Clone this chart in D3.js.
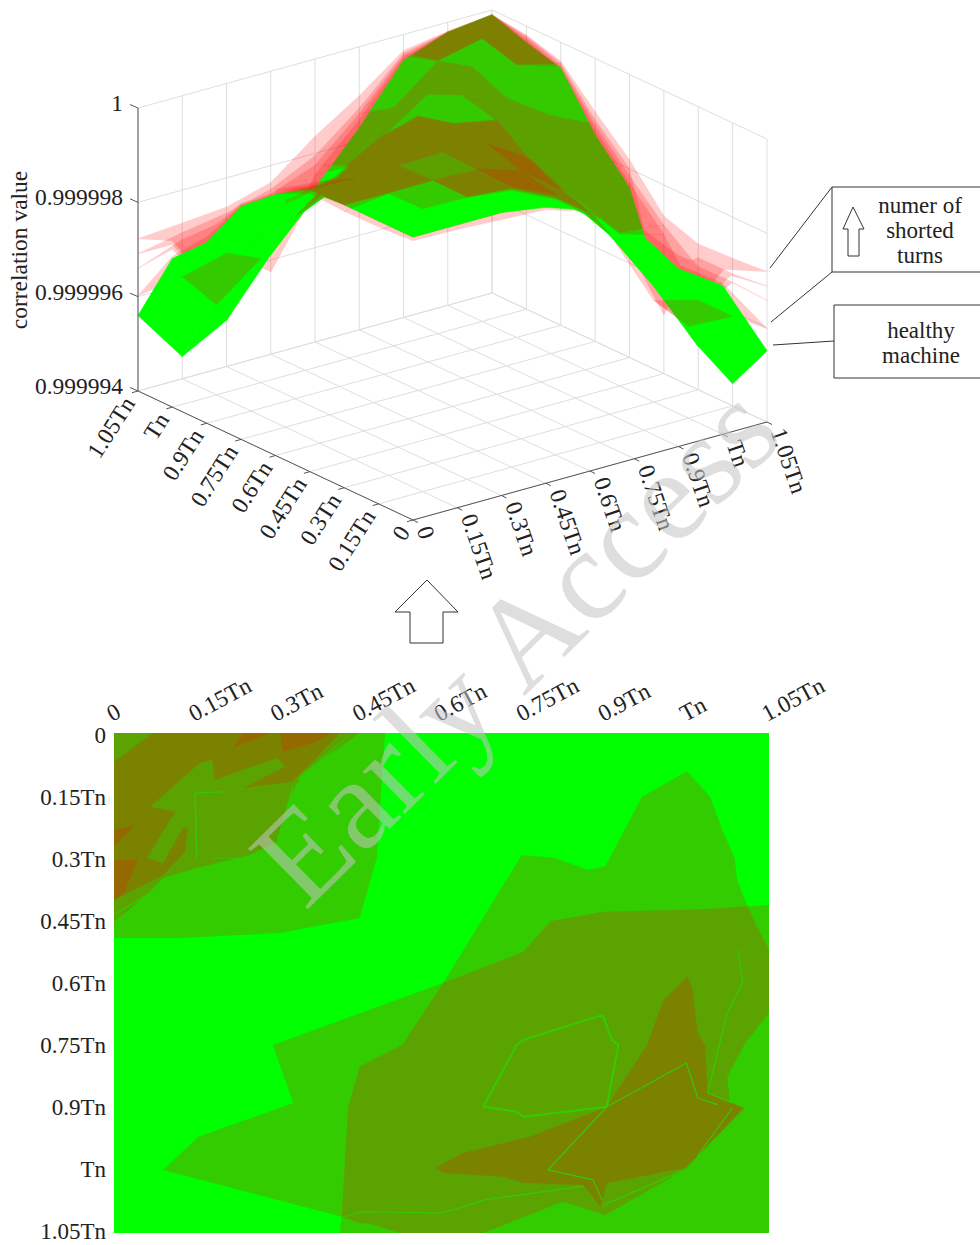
<!DOCTYPE html>
<html>
<head>
<meta charset="utf-8">
<script src="https://cdn.jsdelivr.net/npm/d3@7"></script>
<style>
  html, body { margin: 0; background: #fff; }
  text { font-family: "Liberation Serif", serif; fill: #222; }
</style>
</head>
<body>
<div id="chart"></div>
<script>
const tickLabels = ['0', '0.15Tn', '0.3Tn', '0.45Tn', '0.6Tn', '0.75Tn', '0.9Tn', 'Tn', '1.05Tn']
const zTickValues = [0, 2, 4, 6]   // millionths above 0.999994
const zTickLabels = ['0.999994', '0.999996', '0.999998', '1']
const boxLabelsTop = ['numer of', 'shorted', 'turns']
const boxLabelsBottom = ['healthy', 'machine']

// correlation surfaces: rows are x index, columns y index,
// values are millionths above 0.999994
const healthy = [
  [6.00, 6.00, 6.00, 5.94, 5.53, 4.94, 3.83, 3.15, 1.60],
  [6.00, 6.00, 5.98, 5.85, 5.43, 4.72, 3.51, 2.13, 0.47],
  [6.00, 5.98, 6.00, 5.96, 5.57, 4.89, 3.83, 2.55, 0.98],
  [5.85, 5.85, 5.96, 6.00, 5.85, 5.21, 4.26, 3.40, 2.11],
  [5.53, 5.40, 5.57, 5.85, 6.00, 5.79, 5.00, 4.04, 3.26],
  [4.89, 4.70, 4.85, 5.20, 5.79, 6.00, 5.64, 5.00, 4.28],
  [3.77, 3.45, 3.80, 4.20, 5.00, 5.64, 6.00, 5.74, 5.45],
  [3.15, 2.10, 2.45, 3.20, 4.00, 5.00, 5.74, 6.00, 5.79],
  [1.51, 0.47, 0.92, 1.60, 3.60, 4.38, 5.45, 5.65, 5.90]
]
const fault1 = [
  [6.00, 6.00, 6.00, 6.00, 5.64, 5.08, 4.20, 3.53, 3.23],
  [6.00, 6.00, 6.00, 5.95, 5.55, 4.85, 3.65, 2.28, 3.30],
  [6.00, 6.00, 6.00, 5.98, 5.70, 5.02, 3.98, 2.70, 3.38],
  [5.92, 5.95, 5.98, 6.00, 5.92, 5.35, 4.40, 3.55, 3.64],
  [5.62, 5.52, 5.68, 5.92, 6.00, 5.85, 5.12, 4.18, 4.36],
  [5.05, 4.84, 4.98, 5.32, 5.85, 6.00, 5.72, 5.14, 4.96],
  [4.15, 3.60, 3.95, 4.35, 5.12, 5.72, 6.00, 5.82, 5.66],
  [3.50, 2.25, 2.60, 3.35, 4.15, 5.12, 5.82, 6.00, 5.81],
  [3.19, 3.13, 3.09, 3.34, 4.19, 4.87, 5.60, 5.81, 5.90]
]
const fault2 = [
  [6.00, 6.00, 6.00, 5.98, 5.60, 5.00, 4.10, 3.45, 2.91],
  [6.00, 6.00, 5.99, 5.92, 5.50, 4.80, 3.60, 2.23, 3.10],
  [6.00, 5.99, 6.00, 5.97, 5.65, 4.97, 3.93, 2.65, 3.25],
  [5.90, 5.92, 5.97, 6.00, 5.90, 5.30, 4.35, 3.50, 3.50],
  [5.60, 5.47, 5.65, 5.90, 6.00, 5.82, 5.08, 4.13, 3.95],
  [5.00, 4.78, 4.93, 5.28, 5.82, 6.00, 5.70, 5.09, 4.70],
  [4.05, 3.55, 3.90, 4.30, 5.08, 5.70, 6.00, 5.80, 5.60],
  [3.42, 2.20, 2.55, 3.30, 4.10, 5.08, 5.80, 6.00, 5.80],
  [2.88, 2.80, 2.80, 1.25, 4.00, 4.70, 5.55, 5.79, 5.90]
]
const fault3 = [
  [6.00, 6.00, 6.00, 5.96, 5.58, 4.98, 4.05, 3.35, 2.60],
  [6.00, 6.00, 5.99, 5.90, 5.47, 4.77, 3.56, 2.18, 2.95],
  [6.00, 5.99, 6.00, 5.97, 5.62, 4.93, 3.88, 2.60, 3.10],
  [5.88, 5.90, 5.97, 6.00, 5.88, 5.26, 4.31, 3.45, 3.40],
  [5.58, 5.45, 5.61, 5.88, 6.00, 5.80, 5.05, 4.09, 3.75],
  [4.96, 4.75, 4.90, 5.24, 5.80, 6.00, 5.68, 5.05, 4.58],
  [4.00, 3.50, 3.85, 4.25, 5.05, 5.68, 6.00, 5.78, 5.55],
  [3.32, 2.15, 2.50, 3.25, 4.05, 5.05, 5.78, 6.00, 5.79],
  [2.58, 2.62, 2.60, 3.15, 3.85, 4.60, 5.50, 5.75, 5.90]
]
const fault4 = [
  [5.92, 5.87, 5.86, 5.90, 5.55, 4.95, 3.95, 3.20, 2.02],
  [5.90, 6.00, 5.98, 5.87, 5.44, 4.74, 3.52, 1.91, 2.16],
  [5.85, 5.98, 6.00, 5.96, 5.59, 4.90, 3.85, 2.63, 2.40],
  [5.80, 5.87, 5.96, 6.00, 5.86, 5.23, 4.28, 3.42, 1.75],
  [5.50, 5.42, 5.58, 5.86, 6.00, 5.78, 5.02, 4.06, 3.55],
  [4.85, 4.72, 4.87, 5.22, 5.78, 6.00, 5.66, 5.02, 4.45],
  [3.85, 3.47, 3.82, 4.22, 5.02, 5.66, 6.00, 5.76, 5.50],
  [3.20, 1.95, 2.15, 3.22, 4.02, 5.02, 5.76, 6.00, 5.79],
  [1.98, 1.90, 1.90, 2.95, 3.70, 4.50, 5.45, 5.70, 5.90]
]
// how many fault surfaces sit in front of the healthy one, per mesh cell
const frontCount = [
  [0, 0, 3, 4, 0, 0, 0, 0],
  [0, 1, 3, 3, 3, 0, 0, 1],
  [0, 3, 2, 3, 3, 2, 0, 0],
  [0, 4, 3, 3, 3, 3, 3, 0],
  [0, 3, 4, 3, 1, 1, 2, 2],
  [0, 0, 2, 2, 2, 2, 2, 1],
  [0, 0, 0, 2, 2, 1, 1, 3],
  [0, 1, 0, 2, 2, 1, 3, 3]
]

// projected map regions, [x index, y index]
const mapLevel1 = [
  [[0, 0], [3.31, 0], [3.21, 2], [3.0, 2.96], [2.03, 3.2], [0.81, 3.28], [0, 3.28]],
  [[0.60, 6.99], [1.03, 6.46], [2.19, 5.92], [1.94, 4.99], [4.02, 4.0], [4.98, 1.95], [5.39, 2.0], [5.79, 2.19],
   [6.0, 2.13], [6.45, 1.02], [7.0, 0.61], [7.28, 1.02], [7.43, 1.55], [7.58, 2.0], [7.61, 2.35], [7.74, 2.77],
   [8, 2.75], [8, 8], [2.76, 8], [2.78, 7.74]]
]
const mapLevel2 = [
  [[0, 0], [3.0, 0], [2.31, 0.64], [2.15, 1.02], [1.99, 1.74], [1.66, 1.95], [1.01, 2.16], [0.6, 2.32], [0.4, 2.59], [0, 3.02]],
  [[3.49, 8], [3.15, 7.86], [3.0, 7.84], [2.78, 7.74], [2.86, 5.98], [3.0, 5.34], [3.52, 4.99], [4.02, 4.0], [5.0, 3.5],
   [5.33, 3.01], [5.97, 2.86], [7.19, 2.82], [7.74, 2.77], [7.83, 3.04], [8, 3.47], [8, 4.48], [7.71, 4.96], [7.49, 5.5],
   [7.52, 5.9], [7.71, 6.0], [7.12, 6.78], [6.97, 6.99], [6.0, 7.71], [5.48, 7.5], [4.51, 8]]
]
const mapLevel3 = [
  [[0, 0.46], [0.48, 0], [2.76, 0], [2.39, 0.51], [2.17, 0.78], [1.58, 0.88], [2.09, 0.54], [1.99, 0.4], [1.23, 0.75],
   [1.2, 0.43], [1.05, 0.48], [0.44, 1.18], [0.75, 1.26], [0.4, 2], [0.6, 2.08], [0.84, 1.52], [0.9, 1.5], [0.87, 1.9],
   [0.6, 2.27], [0, 2.67]],
  [[3.92, 6.96], [4.26, 6.72], [5.08, 6.46], [6.02, 5.98], [6.51, 4.99], [6.71, 4.27], [7.0, 3.9], [7.06, 4.06], [7.13, 4.8],
   [7.22, 4.99], [7.25, 5.76], [7.68, 6.0], [7.12, 6.78], [6.97, 6.96], [6.02, 7.2], [5.94, 7.58], [5.73, 7.23], [5.0, 7.2],
   [4.75, 7.1], [4.02, 7.04]]
]
const mapLevel4 = [
  [[1.45, 0.24], [1.58, 0], [1.91, 0]],
  [[2.03, 0], [2.66, 0], [2.43, 0.16], [2.06, 0.3]],
  [[0, 1.55], [0.26, 1.47], [0, 1.82]],
  [[0, 2.03], [0.29, 2.03], [0.13, 2.54], [0, 2.67]]
]
const mapSeams = [
  [[4.51, 5.98], [4.92, 4.99], [5.0, 4.91], [5.97, 4.51], [6.08, 4.91], [6.16, 4.99], [6.02, 5.98], [5.0, 6.14], [4.92, 6.06], [4.51, 5.98]],
  [[6.02, 5.98], [6.99, 5.28], [7.13, 5.84], [7.38, 5.95]],
  [[6.02, 5.98], [5.3, 6.99], [5.85, 7.15], [5.96, 7.47]],
  [[7.62, 3.47], [7.68, 3.98], [7.49, 4.48], [7.25, 5.76], [7.55, 5.92]],
  [[2.8, 7.74], [3.04, 7.66], [4.01, 7.68], [4.53, 7.47], [5.73, 7.25]],
  [[6.97, 6.99], [8, 6.99]],
  [[7.01, 6.99], [7.01, 8]],
  [[6.97, 6.99], [5.98, 7.55]],
  [[7.12, 6.78], [7.55, 6.0]],
  [[0.99, 0.96], [1.01, 2]],
  [[0.99, 0.96], [1.36, 0.94]],
  [[1.21, 2], [2.15, 2]],
  [[2.19, 0.83], [2.15, 1.02], [1.99, 1.74]],
  [[1.01, 2.16], [0.4, 2.59], [0, 2.91]],
  [[2.24, 0.75], [2.88, 0.03]]
]

const width = 980, height = 1245
const faults = [fault1, fault2, fault3, fault4]
const idx = d3.range(9)

const svg = d3.select('#chart').append('svg')
  .attr('width', width)
  .attr('height', height)
  .style('display', 'block')

// 3D box: oblique projection built from one scale per screen direction
const origin = {x: 413, y: 520}
const aX = d3.scaleLinear().domain([0, 8]).range([0, 354])
const aY = d3.scaleLinear().domain([0, 8]).range([0, -98])
const bX = d3.scaleLinear().domain([0, 8]).range([0, -275])
const bY = d3.scaleLinear().domain([0, 8]).range([0, -129])
const zY = d3.scaleLinear().domain([0, 6]).range([0, -283])

const project = (a, b, z) => [origin.x + aX(a) + bX(b), origin.y + aY(a) + bY(b) + zY(z)]
const line = d3.line()
const closed = d3.line().curve(d3.curveLinearClosed)

const box = svg.append('g')
const gridColor = '#dedede'

function gridLine(p, q) {
  box.append('path').attr('d', line([p, q])).attr('fill', 'none')
    .attr('stroke', gridColor).attr('stroke-width', 1)
}

// floor and the two back walls
idx.forEach(i => {
  gridLine(project(i, 0, 0), project(i, 8, 0))
  gridLine(project(0, i, 0), project(8, i, 0))
  gridLine(project(i, 8, 0), project(i, 8, 6))
  gridLine(project(8, i, 0), project(8, i, 6))
})
zTickValues.forEach(z => {
  gridLine(project(0, 8, z), project(8, 8, z))
  gridLine(project(8, 8, z), project(8, 0, z))
})

// mesh cells of one surface, far to near
function cells(surface, k) {
  const out = []
  d3.range(8).forEach(i => d3.range(8).forEach(j => {
    const zs = [surface[i][j], surface[i + 1][j], surface[i + 1][j + 1], surface[i][j + 1]]
    out.push({
      i, j, k,
      depth: 272 * (i + 0.5) / 8 + 357 * (j + 0.5) / 8 - 265 * d3.mean(zs) / 6,
      points: [project(i, j, zs[0]), project(i + 1, j, zs[1]), project(i + 1, j + 1, zs[2]), project(i, j + 1, zs[3])]
    })
  }))
  return out.sort((p, q) => q.depth - p.depth)
}

const isFront = c => c.k >= 4 - frontCount[c.i][c.j]
const mesh = svg.append('g')

// one translucent group per surface, so a fold of a surface doesn't darken itself
function drawFaults(test) {
  faults.forEach((s, k) => {
    mesh.append('g')
      .attr('opacity', 0.2)
      .selectAll('path').data(cells(s, k).filter(test)).enter()
      .append('path')
      .attr('d', d => closed(d.points))
      .attr('fill', '#ff0000')
      .attr('stroke', '#ff0000')
      .attr('stroke-width', 0.5)
  })
}

drawFaults(c => !isFront(c))
mesh.append('g').selectAll('path').data(cells(healthy, -1)).enter()
  .append('path')
  .attr('d', d => closed(d.points))
  .attr('fill', '#00ff00')
  .attr('stroke', '#00ff00')
  .attr('stroke-width', 0.6)
drawFaults(isFront)

// axes of the box
const axis = svg.append('g')
const axisColor = '#555'
function axisLine(p, q) {
  axis.append('path').attr('d', line([p, q])).attr('fill', 'none')
    .attr('stroke', axisColor).attr('stroke-width', 1)
}
axisLine(project(0, 8, 0), project(0, 0, 0))
axisLine(project(0, 0, 0), project(8, 0, 0))
axisLine(project(0, 8, 0), project(0, 8, 6))

const scalePos = d3.scalePoint().domain(tickLabels).range([0, 8])

tickLabels.forEach(label => {
  const t = scalePos(label)
  // y axis, left side
  const pl = project(0, t, 0)
  axisLine(pl, [pl[0] - 6, pl[1] + 1.7])
  axis.append('text')
    .attr('transform', `translate(${pl[0] - 9},${pl[1] + 8}) rotate(-57.5)`)
    .attr('text-anchor', 'end')
    .attr('dominant-baseline', 'central')
    .attr('font-size', 23.5)
    .text(label)
  // x axis, right side
  const pr = project(t, 0, 0)
  axisLine(pr, [pr[0] + 5, pr[1] + 2.5])
  axis.append('text')
    .attr('transform', `translate(${pr[0] + 11},${pr[1] + 7}) rotate(71)`)
    .attr('text-anchor', 'start')
    .attr('dominant-baseline', 'central')
    .attr('font-size', 23.5)
    .text(label)
})
zTickValues.forEach((z, n) => {
  const p = project(0, 8, z)
  axisLine(p, [p[0] - 8, p[1] - 3.5])
  axis.append('text')
    .attr('x', p[0] - 15)
    .attr('y', p[1] - 5)
    .attr('text-anchor', 'end')
    .attr('dominant-baseline', 'central')
    .attr('font-size', 23.5)
    .text(zTickLabels[n])
})
svg.append('text')
  .attr('transform', 'translate(19,250) rotate(-90)')
  .attr('text-anchor', 'middle')
  .attr('dominant-baseline', 'central')
  .attr('font-size', 23.5)
  .text('correlation value')

// legend boxes on the right
const legend = svg.append('g').attr('fill', 'none').attr('stroke', '#333').attr('stroke-width', 1)
legend.append('path').attr('d', line([[980, 187], [832, 187], [832, 272], [980, 272]]))
legend.append('path').attr('d', line([[980, 305], [834, 305], [834, 378], [980, 378]]))
legend.append('path').attr('d', line([[832, 187], [770, 268]]))
legend.append('path').attr('d', line([[832, 272], [771, 322]]))
legend.append('path').attr('d', line([[834, 341], [773, 345]]))
legend.append('path').attr('d', closed([[853, 207], [864, 229], [859, 229], [859, 256], [848, 256], [848, 229], [843, 229]]))
// arrow between the two views
legend.append('path').attr('d', closed([[427, 580], [458, 612], [443, 612], [443, 643], [410, 643], [410, 612], [395, 612]]))

boxLabelsTop.forEach((t, n) => {
  svg.append('text').attr('x', 920).attr('y', 213 + n * 25).attr('text-anchor', 'middle')
    .attr('font-size', 23).text(t)
})
boxLabelsBottom.forEach((t, n) => {
  svg.append('text').attr('x', 921).attr('y', 338 + n * 25).attr('text-anchor', 'middle')
    .attr('font-size', 23).text(t)
})

// view from below
const x = d3.scaleLinear().domain([0, 8]).range([114, 769])
const y = d3.scaleLinear().domain([0, 8]).range([733, 1233])
const yLabel = d3.scaleLinear().domain([0, 8]).range([735, 1231])
const mapLine = d3.line().x(d => x(d[0])).y(d => y(d[1]))

const map = svg.append('g')
map.append('rect')
  .attr('x', x(0)).attr('y', y(0))
  .attr('width', x(8) - x(0)).attr('height', y(8) - y(0))
  .attr('fill', '#00ff00')

;[mapLevel1, mapLevel2, mapLevel3, mapLevel4].forEach(level => {
  map.append('g').selectAll('path').data(level).enter()
    .append('path')
    .attr('d', d => mapLine(d) + 'Z')
    .attr('fill', '#ff0000')
    .attr('fill-opacity', 0.2)
})
map.append('g').selectAll('path').data(mapSeams).enter()
  .append('path')
  .attr('d', d => mapLine(d))
  .attr('fill', 'none')
  .attr('stroke', '#33cc00')
  .attr('stroke-width', (d, n) => n === 0 ? 2 : 1.2)

tickLabels.forEach(label => {
  const t = scalePos(label)
  map.append('text')
    .attr('transform', `translate(${x(t) - 2},722) rotate(-28)`)
    .attr('font-size', 23.5)
    .text(label)
  map.append('text')
    .attr('x', 106)
    .attr('y', yLabel(t))
    .attr('text-anchor', 'end')
    .attr('dominant-baseline', 'central')
    .attr('font-size', 23)
    .text(label)
})

// journal watermark
svg.append('text')
  .attr('transform', 'translate(305,912) rotate(-44.5)')
  .attr('font-size', 130)
  .style('fill', 'rgb(196,196,196)')
  .style('fill-opacity', 0.56)
  .text('Early Access')
</script>
</body>
</html>
